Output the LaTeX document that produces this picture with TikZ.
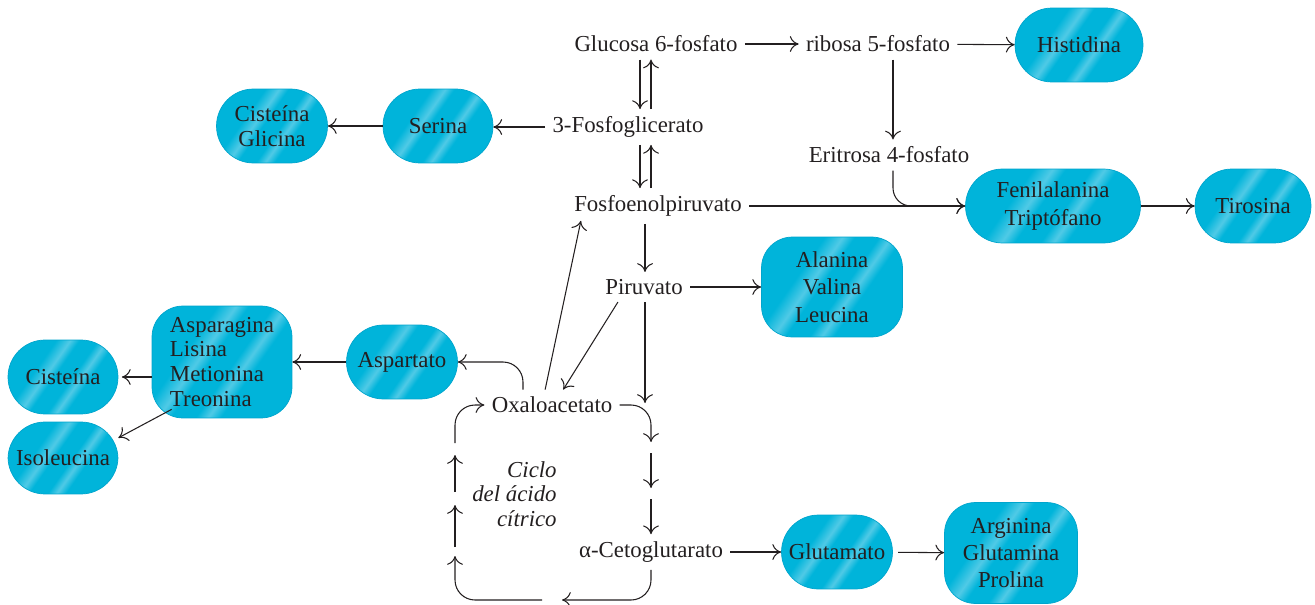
\documentclass[tikz,border=0pt]{standalone}
\usepackage{fontspec}
\setmainfont{Liberation Serif}
\usetikzlibrary{positioning, arrows.meta, calc}

\definecolor{aqdark}{RGB}{0,180,218}
\definecolor{aqlight}{RGB}{80,202,230}
\definecolor{aqrim}{RGB}{0,165,205}
\definecolor{ink}{RGB}{35,31,32}
\pgfdeclarehorizontalshading{aqstreaks}{100bp}{color(0bp)=(aqdark); color(36bp)=(aqdark);
  color(42bp)=(aqlight); color(46bp)=(aqdark); color(54bp)=(aqdark); color(58bp)=(aqlight);
  color(62bp)=(aqdark); color(100bp)=(aqdark)}

\begin{document}
\begin{tikzpicture}[
    x=0.02cm, y=-0.02cm,
    font=\fontsize{13}{15.5}\selectfont, text=ink,
    %% metabolite: plain text, no frame
    met/.style={inner sep=4pt},
    %% amino acid box
    aa/.style={
        shading=aqstreaks, shading angle=-35, draw=aqrim, line width=0.4pt,
        rounded corners=0.74cm, align=center,
        minimum width=2.2cm, minimum height=1.48cm, inner sep=2pt
    },
    %% tight line spacing
    tight/.style={font=\fontsize{13}{14.2}\selectfont},
    %% cycle caption
    cyclab/.style={align=right, font=\fontsize{13}{13.8}\selectfont\itshape, inner sep=0pt},
    %% reaction arrow
    flow/.style={-{Computer Modern Rightarrow[length=5pt, width=9pt]}, line width=0.6pt, draw=ink}
]
\useasboundingbox (0,0) rectangle (1315,605);

%%-------------------------------------------------------------- nodes
\node[met]                                       (glu)    at (656,44)  {Glucosa 6-fosfato};
\node[met]                                       (rib)    at (878,44)  {ribosa 5-fosfato};
\node[aa, minimum width=2.56cm]                  (his)    at (1079,45) {Histidina};

\node[met]                                       (pgl)    at (628,127) {3-Fosfoglicerato};
\node[aa]                                        (ser)    at (438,126) {Serina};
\node[aa, tight, minimum width=2.22cm]           (cysgly) at (272,126) {Cisteína\\Glicina};

\node[met]                                       (ery)    at (889,155) {Eritrosa 4-fosfato};
\node[met]                                       (pep)    at (658,206) {Fosfoenolpiruvato};
\node[aa, minimum width=3.5cm]                   (phe)    at (1053,206) {Fenilalanina\\Triptófano};
\node[aa, minimum width=2.32cm]                  (tyr)    at (1253,206) {Tirosina};

\node[met]                                       (pir)    at (644,287) {Piruvato};
\node[aa, rounded corners=0.62cm, minimum width=2.82cm, minimum height=2cm]
                                                 (ala)    at (832,287) {Alanina\\Valina\\Leucina};

\node[aa, minimum width=2.22cm]                  (asp)    at (402,362) {Aspartato};
\node[aa, tight, align=left, rounded corners=0.62cm, minimum width=2.8cm, minimum height=2.24cm]
                                                 (asn)    at (222,362) {Asparagina\\Lisina\\Metionina\\Treonina};
\node[aa]                                        (cis)    at (63,377)  {Cisteína};
\node[aa, minimum height=1.44cm]                 (ile)    at (63,458)  {Isoleucina};

\node[met]                                       (oaa)    at (552,405) {Oxaloacetato};
\node[cyclab, anchor=east]                       (cyc)    at (557,494) {Ciclo\\del ácido\\cítrico};
\node[met]                                       (akg)    at (651,552) {α-Cetoglutarato};
\node[aa, minimum width=2.22cm]                  (glt)    at (837,552) {Glutamato};
\node[aa, rounded corners=0.62cm, minimum width=2.66cm, minimum height=2.02cm]
                                                 (arg)    at (1011,553) {Arginina\\Glutamina\\Prolina};

%% free ends of the cycle arrows
\coordinate (acin) at (645,403);
\coordinate (cR1)  at (651,442);
\coordinate (cR2)  at (651,453);
\coordinate (cR3)  at (651,488);
\coordinate (cR4)  at (651,499);
\coordinate (cB1)  at (562,600);
\coordinate (cB2)  at (542,600);
\coordinate (cL1)  at (455,556);
\coordinate (cL2)  at (455,547);
\coordinate (cL3)  at (455,505);
\coordinate (cL4)  at (455,492);
\coordinate (cL5)  at (455,455);
\coordinate (cL6)  at (455,443);

%%-------------------------------------------------------------- edges
% pentose phosphate branch
\draw[flow] (glu) -- (rib);
\draw[flow] (rib) -- (his);
\draw[flow] (893,0 |- rib.south) -- (893,0 |- ery.north);

% glycolysis, both directions
\draw[flow] (640,0 |- glu.south) -- (640,0 |- pgl.north);
\draw[flow] (651,0 |- pgl.north) -- (651,0 |- glu.south);
\draw[flow] (640,0 |- pgl.south) -- (640,0 |- pep.north);
\draw[flow] (651,0 |- pep.north) -- (651,0 |- pgl.south);

% serine family
\draw[flow] (pgl.west) -- (pgl.west -| ser.east);
\draw[flow] (ser) -- (cysgly);

% aromatic family
\draw[flow] (pep) -- (phe);
\draw[flow, rounded corners=0.36cm] (893,0 |- ery.south) |- (phe.west);
\draw[flow] (phe) -- (tyr);

% pyruvate family
\draw[flow] (645,0 |- pep.south) -- (645,0 |- pir.north);
\draw[flow] (pir) -- (ala);
\draw[flow] (pir.210) -- (oaa.54);
\draw[flow] (oaa.114) -- ($(pep.south west)+(14,-3)$);
\draw[flow] (645,0 |- pir.south) -- (acin);

% aspartate family
\draw[flow, rounded corners=0.4cm] (523,0 |- oaa.north) |- (asp.east);
\draw[flow] (asp) -- (asn);
\draw[flow, shorten >=2pt] (cis.east -| asn.west) -- (cis.east);
\draw[flow] ($(asn.south west)+(20,-9)$) -- (ile.20);

% citric acid cycle
\draw[flow, rounded corners=0.4cm] (oaa.east) -| (cR1);
\draw[flow] (cR2) -- (cR3);
\draw[flow] (cR4) -- (651,0 |- akg.north);
\draw[flow, rounded corners=0.4cm] (651,0 |- akg.south) |- (cB1);
\draw[flow, rounded corners=0.4cm] (cB2) -| (cL1);
\draw[flow] (cL2) -- (cL3);
\draw[flow] (cL4) -- (cL5);
\draw[flow, rounded corners=0.4cm] (cL6) |- (oaa.west);

% glutamate family
\draw[flow] (akg) -- (glt);
\draw[flow, shorten <=3pt] (glt) -- (arg);

\end{tikzpicture}
\end{document}
